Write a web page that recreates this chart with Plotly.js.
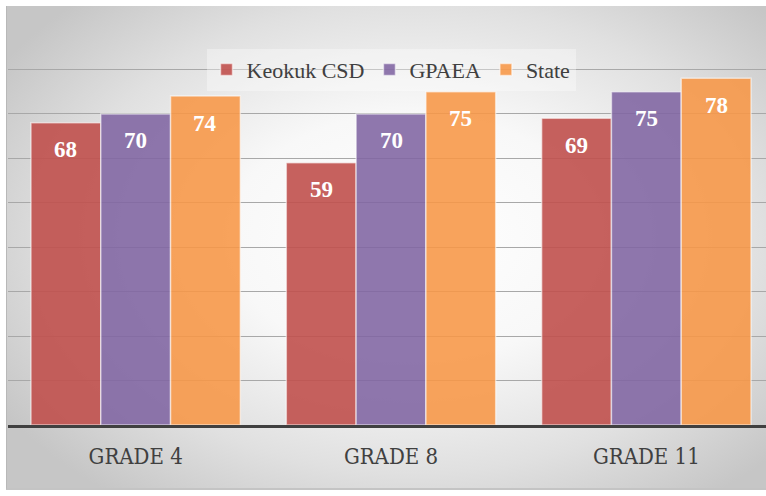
<!DOCTYPE html>
<html><head><meta charset="utf-8">
<script src="https://cdn.plot.ly/plotly-3.0.1.min.js"></script>
<style>
html,body{margin:0;padding:0;overflow:hidden;width:766px;height:496px;background:#fff;}
#panel{position:absolute;left:6px;top:6px;width:780px;height:482px;
 background:radial-gradient(ellipse 62% 68% at 52% 48%, #ffffff 0%, #f8f8f8 38%, #e0e0e0 72%, #c6c6c6 100%);
 border-left:1px solid #b8b8b8;border-bottom:2px solid #c4c4c4;}
#chart{position:absolute;left:0;top:0;width:782px;height:496px;}
</style></head>
<body>
<div id="panel"></div>
<div id="chart"></div>
<script>
const categories = ["GRADE 4", "GRADE 8", "GRADE 11"];
const seriesNames = ["Keokuk CSD", "GPAEA", "State"];
const keokuk = [68, 59, 69];
const gpaea = [70, 70, 75];
const state = [74, 75, 78];
const colors = ["rgba(192,80,77,0.9)", "rgba(128,100,162,0.88)", "rgba(247,150,70,0.88)"];

const allSeries = [keokuk, gpaea, state];
const bargap = 0.18;
const bw = (1 - bargap) / 3;

const traces = allSeries.map((vals, i) => ({
  type: "bar",
  name: seriesNames[i],
  x: categories,
  y: vals,
  marker: {color: colors[i], line: {color: "rgba(255,255,255,0.55)", width: 1.5}},
  hoverinfo: "skip"
}));

const annotations = [];
allSeries.forEach((vals, i) => {
  vals.forEach((v, j) => {
    annotations.push({
      x: j + (i - 1) * bw, y: v, xref: "x", yref: "y",
      text: "<b>" + v + "</b>", showarrow: false, yshift: -27,
      font: {family: "Liberation Serif, DejaVu Serif, serif", size: 23, color: "#ffffff"}
    });
  });
});

const layout = {
  width: 782, height: 496,
  margin: {l: 8, r: 8, t: 25, b: 71},
  paper_bgcolor: "rgba(0,0,0,0)",
  plot_bgcolor: "rgba(0,0,0,0)",
  barmode: "group",
  bargap: bargap,
  bargroupgap: 0,
  showlegend: true,
  legend: {
    orientation: "h", x: 0.5, xanchor: "center", y: 0.888, yanchor: "middle",
    yref: "paper",
    font: {family: "Liberation Serif, DejaVu Serif, serif", size: 22, color: "#404040"},
    bgcolor: "rgba(255,255,255,0.35)", itemwidth: 30, tracegroupgap: 0
  },
  xaxis: {
    type: "category",
    showline: true, linecolor: "#404040", linewidth: 3,
    ticks: "", showgrid: false,
    ticklabelstandoff: 10,
    tickfont: {family: "DejaVu Serif Condensed, Liberation Serif, serif", size: 22, color: "#404040"}
  },
  yaxis: {
    range: [0, 90], dtick: 10, tick0: 0,
    showticklabels: false, ticks: "",
    showgrid: true, gridcolor: "#a8a8a8", gridwidth: 1,
    zeroline: false, showline: false
  },
  annotations: annotations
};

Plotly.newPlot("chart", traces, layout, {displayModeBar: false, staticPlot: true});
</script>
</body></html>
